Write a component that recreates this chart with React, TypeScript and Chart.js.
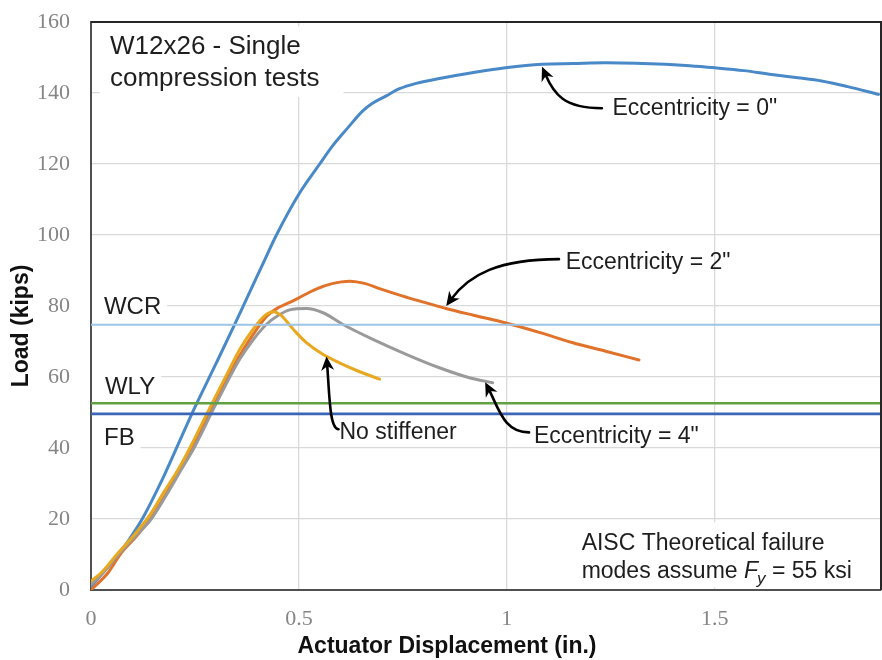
import React, { useEffect, useRef } from 'react';
import { Chart, registerables } from 'chart.js';

Chart.register(...registerables);

// ---- Data (x = actuator displacement in., y = load kips) ----
const ecc0: [number, number][] = [
  [0, 1], [0.03, 5], [0.066, 10], [0.095, 14.8], [0.1256, 20.5], [0.166, 29.8], [0.2, 38.5], [0.25, 51.5],
  [0.3, 63.6], [0.3456, 74.8], [0.3736, 81.9], [0.41, 91], [0.446, 100], [0.502, 111.9], [0.55, 120],
  [0.581, 125.1], [0.617, 130.1], [0.653, 134.9], [0.677, 137.1], [0.71, 139.2], [0.742, 141.2],
  [0.782, 142.7], [0.838, 144.1], [0.92, 145.8], [0.997, 147.1], [1.085, 148.1], [1.16, 148.3],
  [1.237, 148.5], [1.31, 148.4], [1.381, 148.1], [1.44, 147.7], [1.501, 147.1], [1.57, 146.3],
  [1.637, 145.2], [1.7, 144.3], [1.757, 143.4], [1.82, 141.8], [1.894, 139.6],
];
const ecc2: [number, number][] = [
  [0, 0], [0.042, 5], [0.07, 10], [0.108, 15], [0.146, 20.5], [0.18, 27], [0.215, 34], [0.245, 40.5],
  [0.295, 52.3], [0.33, 60.5], [0.36, 66.5], [0.39, 72], [0.4216, 77], [0.45, 79.5], [0.478, 81],
  [0.5, 82.3], [0.54, 84.7], [0.58, 86.3], [0.622, 87], [0.66, 86.3], [0.694, 84.9], [0.75, 82.8],
  [0.8, 81.1], [0.854, 79.3], [0.92, 77.4], [0.998, 75.2], [1.08, 72.5], [1.157, 69.7], [1.24, 67.2],
  [1.318, 64.8],
];
const ecc4: [number, number][] = [
  [0, 1.5], [0.03, 5], [0.066, 10], [0.105, 15], [0.145, 20], [0.18, 26.5], [0.215, 33.5], [0.25, 40.5],
  [0.3, 52.3], [0.3576, 65], [0.39, 70.5], [0.4216, 74.8], [0.45, 77.3], [0.4776, 78.9], [0.518, 79.3],
  [0.558, 78.1], [0.606, 74.8], [0.678, 70.6], [0.758, 66.4], [0.838, 62.6], [0.91, 59.8], [0.966, 58.4],
];
const noStiffener: [number, number][] = [
  [0, 2.5], [0.026, 5], [0.062, 10], [0.1, 15], [0.138, 20.5], [0.175, 27.5], [0.21, 34], [0.24, 40.5],
  [0.29, 52.3], [0.33, 61.5], [0.358, 67.8], [0.39, 73.5], [0.42, 77.5], [0.438, 78.4], [0.458, 77.3],
  [0.478, 74.6], [0.4936, 72.5], [0.518, 69.7], [0.5575, 66.4], [0.5976, 64.0], [0.6376, 61.9], [0.694, 59.4],
];

const refNames = ['WCR', 'WLY', 'FB'];
const refValues = [74.7, 52.6, 49.6];
const refLabelAnchors: [number, number][] = [[0.0312, 77.7], [0.0336, 55.1], [0.0312, 40.8]];

const xMin = 0;
const xMax = 1.9;
const xTickValues = [0, 0.5, 1, 1.5];
const yMin = 0;
const yMax = 160;
const yStep = 20;

const titleLines = ['W12x26 - Single', 'compression tests'];
const titleAnchors: [number, number][] = [[0.0456, 150.9], [0.0456, 142.0]];

const calloutTexts = ['Eccentricity = 0"', 'Eccentricity = 2"', 'Eccentricity = 4"', 'No stiffener'];
const calloutAnchors: [number, number][] = [[1.254, 133.7], [1.1416, 90.3], [1.0655, 41.3], [0.5976, 42.45]];
// bezier arrow paths: tail, ctrl1, ctrl2, tip (data units)
const calloutArrows: [number, number][][] = [
  [[1.2287, 135.7], [1.1375, 135.7], [1.1135, 139.6], [1.0847, 147.4]],
  [[1.1255, 93.2], [0.9815, 93.2], [0.9095, 88.9], [0.8543, 80.0]],
  [[1.0535, 44.4], [0.9935, 44.4], [0.9815, 50.9], [0.948, 58.5]],
  [[0.5952, 45.3], [0.5736, 45.3], [0.5736, 55.1], [0.5664, 65.8]],
];

const noteLine1 = 'AISC Theoretical failure';
const noteLine2Parts = ['modes assume ', 'F', 'y', ' = 55 ksi'];
const noteAnchors: [number, number][] = [[1.18, 11.2], [1.18, 3.5]];

const xTitle = 'Actuator Displacement (in.)';
const yTitle = 'Load (kips)';

const SANS = "'Liberation Sans', Arial, Helvetica, sans-serif";
const SERIF = "'Liberation Serif', 'Times New Roman', serif";
const TEXT = '#1e1e1e';

const toXY = (arr: [number, number][]) => arr.map(([x, y]) => ({ x, y }));

function drawArrow(ctx: CanvasRenderingContext2D, p: { x: number; y: number }[]) {
  const [a, b, c, d] = p;
  const ang = Math.atan2(d.y - c.y, d.x - c.x);
  const L = 14;
  const W = 6.5;
  const endX = d.x - Math.cos(ang) * 8;
  const endY = d.y - Math.sin(ang) * 8;
  ctx.save();
  ctx.strokeStyle = '#000';
  ctx.fillStyle = '#000';
  ctx.lineWidth = 2.6;
  ctx.lineCap = 'round';
  ctx.beginPath();
  ctx.moveTo(a.x, a.y);
  ctx.bezierCurveTo(b.x, b.y, c.x, c.y, endX, endY);
  ctx.stroke();
  const bx = d.x - Math.cos(ang) * L;
  const by = d.y - Math.sin(ang) * L;
  const nx = -Math.sin(ang);
  const ny = Math.cos(ang);
  const mx = d.x - Math.cos(ang) * (L * 0.7);
  const my = d.y - Math.sin(ang) * (L * 0.7);
  ctx.beginPath();
  ctx.moveTo(d.x, d.y);
  ctx.lineTo(bx + nx * W, by + ny * W);
  ctx.lineTo(mx, my);
  ctx.lineTo(bx - nx * W, by - ny * W);
  ctx.closePath();
  ctx.fill();
  ctx.restore();
}

const annotationPlugin = {
  id: 'annotations',
  beforeDatasetsDraw(chart: any) {
    const { ctx, scales, chartArea } = chart;
    const xs = scales.x;
    const ys = scales.y;
    ctx.save();
    ctx.fillStyle = '#ffffff';
    // title box
    ctx.font = `26px ${SANS}`;
    const tw = Math.max(...titleLines.map((t) => ctx.measureText(t).width));
    const tx = xs.getPixelForValue(titleAnchors[0][0]);
    const ty1 = ys.getPixelForValue(titleAnchors[0][1]);
    const ty2 = ys.getPixelForValue(titleAnchors[1][1]);
    const tTop = Math.max(chartArea.top + 2, ty1 - 28);
    ctx.fillRect(tx - 10, tTop, tw + 34, ty2 + 11 - tTop);
    // ref label boxes
    ctx.font = `24px ${SANS}`;
    refNames.forEach((n, i) => {
      const w = ctx.measureText(n).width;
      const x = xs.getPixelForValue(refLabelAnchors[i][0]);
      const y = ys.getPixelForValue(refLabelAnchors[i][1]);
      ctx.fillRect(chartArea.left + 1, y - 22, x - chartArea.left + w + 5, 28);
    });
    // note box
    ctx.font = `23px ${SANS}`;
    const nw = ctx.measureText(noteLine1).width;
    const nx = xs.getPixelForValue(noteAnchors[0][0]);
    const ny1 = ys.getPixelForValue(noteAnchors[0][1]);
    const ny2 = ys.getPixelForValue(noteAnchors[1][1]);
    ctx.fillRect(nx - 5, ny1 - 28, nw + 14, Math.min(chartArea.bottom - 1, ny2 + 10) - (ny1 - 28));
    ctx.restore();
  },
  afterDatasetsDraw(chart: any) {
    const { ctx, scales, chartArea } = chart;
    const xs = scales.x;
    const ys = scales.y;
    const px = (p: [number, number]) => ({ x: xs.getPixelForValue(p[0]), y: ys.getPixelForValue(p[1]) });
    ctx.save();
    // top and right frame
    ctx.strokeStyle = '#262626';
    ctx.lineWidth = 2;
    ctx.beginPath();
    ctx.moveTo(chartArea.left, chartArea.top);
    ctx.lineTo(chartArea.right, chartArea.top);
    ctx.lineTo(chartArea.right, chartArea.bottom);
    ctx.stroke();

    ctx.fillStyle = TEXT;
    ctx.textBaseline = 'alphabetic';
    ctx.textAlign = 'left';
    // title
    ctx.font = `26px ${SANS}`;
    titleLines.forEach((t, i) => {
      const p = px(titleAnchors[i]);
      ctx.fillText(t, p.x, p.y);
    });
    // ref labels
    ctx.font = `24px ${SANS}`;
    refNames.forEach((n, i) => {
      const p = px(refLabelAnchors[i]);
      ctx.fillText(n, p.x, p.y);
    });
    // callouts
    ctx.font = `23px ${SANS}`;
    calloutTexts.forEach((t, i) => {
      const p = px(calloutAnchors[i]);
      ctx.fillText(t, p.x, p.y);
    });
    calloutArrows.forEach((arr) => drawArrow(ctx, arr.map(px)));
    // note
    ctx.fillStyle = TEXT;
    ctx.font = `23px ${SANS}`;
    const n1 = px(noteAnchors[0]);
    ctx.fillText(noteLine1, n1.x, n1.y);
    const n2 = px(noteAnchors[1]);
    let cx = n2.x;
    ctx.fillText(noteLine2Parts[0], cx, n2.y);
    cx += ctx.measureText(noteLine2Parts[0]).width;
    ctx.font = `italic 23px ${SANS}`;
    ctx.fillText(noteLine2Parts[1], cx, n2.y);
    cx += ctx.measureText(noteLine2Parts[1]).width - 1;
    ctx.font = `italic 17px ${SANS}`;
    ctx.fillText(noteLine2Parts[2], cx, n2.y + 6);
    cx += ctx.measureText(noteLine2Parts[2]).width;
    ctx.font = `23px ${SANS}`;
    ctx.fillText(noteLine2Parts[3], cx, n2.y);

    // axis titles
    ctx.font = `bold 23px ${SANS}`;
    ctx.textAlign = 'center';
    ctx.textBaseline = 'middle';
    ctx.fillStyle = '#111';
    ctx.fillText(xTitle, 447, 647);
    ctx.translate(22, 326);
    ctx.rotate(-Math.PI / 2);
    ctx.fillText(yTitle, 0, 0);
    ctx.restore();
  },
};

export default function App() {
  const canvasRef = useRef<HTMLCanvasElement | null>(null);

  useEffect(() => {
    document.body.style.margin = '0';
    const canvas = canvasRef.current;
    if (!canvas) return;
    const refColors = ['#9DC3E6', '#62A044', '#3A66B5'];
    const refWidths = [2, 2.6, 2.6];
    const refSets = refNames.map((n, i) => ({
      label: n,
      data: [{ x: xMin, y: refValues[i] }, { x: xMax, y: refValues[i] }],
      borderColor: refColors[i],
      borderWidth: refWidths[i],
      pointRadius: 0,
      showLine: true,
      tension: 0,
    }));
    const curve = (label: string, arr: [number, number][], color: string) => ({
      label,
      data: toXY(arr),
      borderColor: color,
      borderWidth: 3,
      pointRadius: 0,
      showLine: true,
      cubicInterpolationMode: 'monotone' as const,
      borderCapStyle: 'round' as const,
      borderJoinStyle: 'round' as const,
    });
    const chart = new Chart(canvas, {
      type: 'scatter',
      data: {
        datasets: [
          ...refSets,
          curve('No stiffener', noStiffener, '#E8A820'),
          curve('Eccentricity = 4"', ecc4, '#9A9A9A'),
          curve('Eccentricity = 2"', ecc2, '#E0722A'),
          curve('Eccentricity = 0"', ecc0, '#4A89C8'),
        ],
      },
      options: {
        animation: false,
        responsive: false,
        maintainAspectRatio: false,
        layout: { padding: { top: 22, right: 1, left: 0, bottom: 0 } },
        plugins: { legend: { display: false }, tooltip: { enabled: false }, title: { display: false } },
        scales: {
          x: {
            type: 'linear',
            min: xMin,
            max: xMax,
            afterBuildTicks: (s: any) => {
              s.ticks = xTickValues.map((v) => ({ value: v }));
            },
            afterFit: (s: any) => {
              s.height = 70;
            },
            grid: { color: '#d9d9d9', lineWidth: 1.3, drawTicks: false },
            border: { display: true, color: '#505050', width: 2 },
            ticks: {
              padding: 16,
              color: '#858585',
              font: { family: SERIF, size: 22 },
              callback: (v: any) => String(v),
              maxRotation: 0,
            },
          },
          y: {
            type: 'linear',
            min: yMin,
            max: yMax,
            ticks: {
              stepSize: yStep,
              padding: 21,
              color: '#858585',
              font: { family: SERIF, size: 22 },
            },
            afterFit: (s: any) => {
              s.width = 91;
              s.paddingTop = 0;
              s.paddingBottom = 0;
            },
            grid: { color: '#d9d9d9', lineWidth: 1.3, drawTicks: false },
            border: { display: true, color: '#505050', width: 2 },
          },
        },
      },
      plugins: [annotationPlugin],
    });
    return () => chart.destroy();
  }, []);

  return (
    <div style={{ width: 882, height: 660, background: '#fff' }}>
      <canvas ref={canvasRef} width={882} height={660} style={{ display: 'block' }} />
    </div>
  );
}
